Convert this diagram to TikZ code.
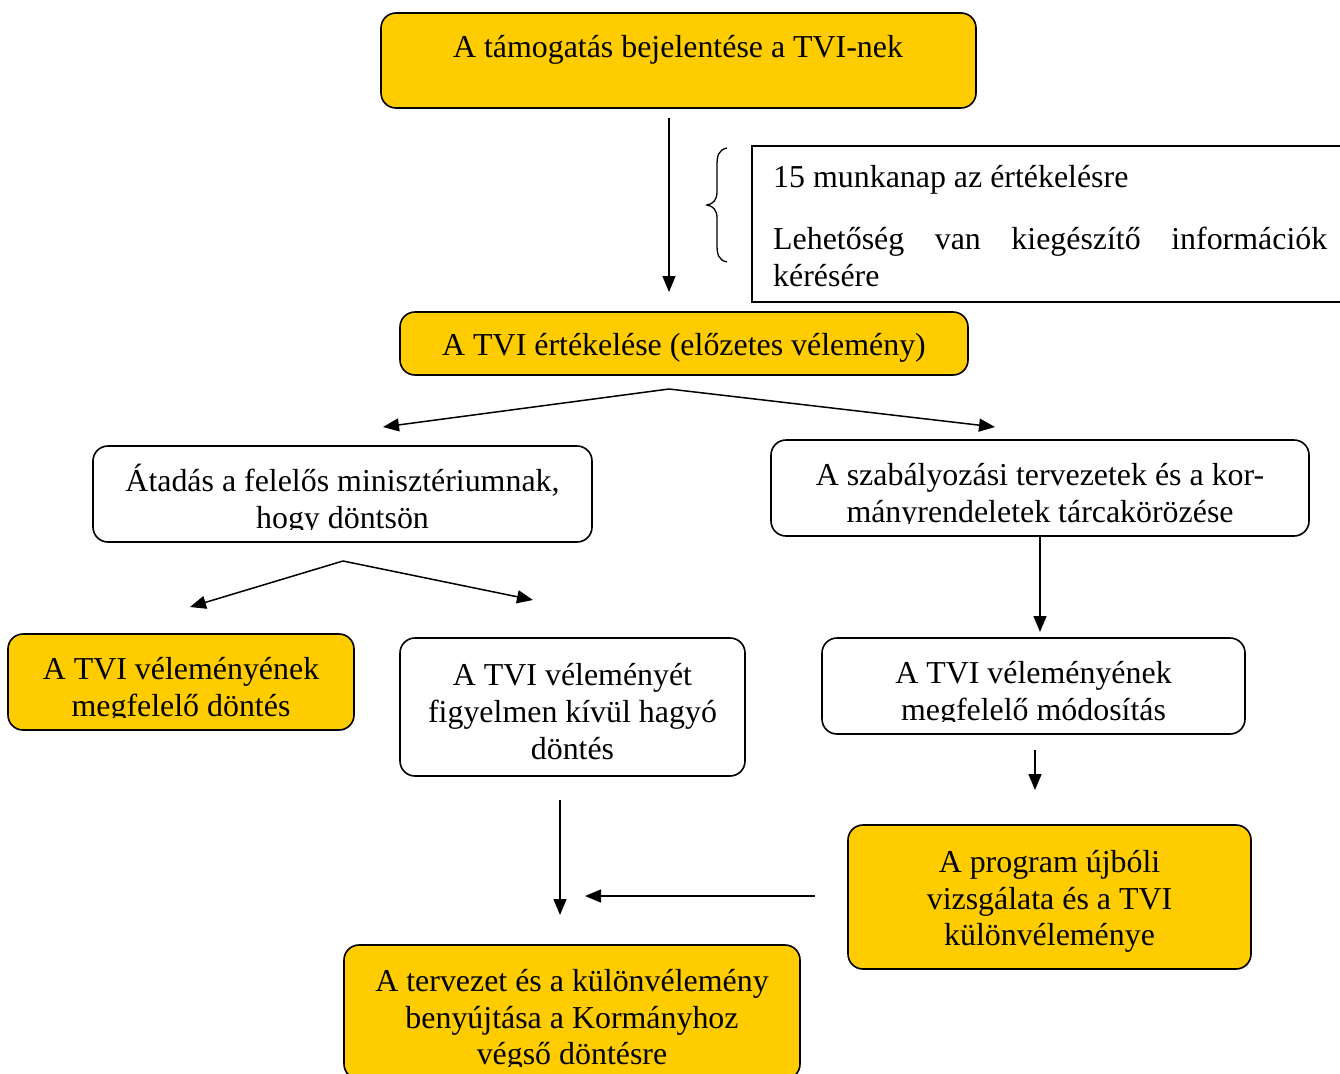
\documentclass[tikz,border=0pt]{standalone}
\usepackage{fontspec}
\setmainfont{Liberation Serif}
\usetikzlibrary{arrows.meta}
\definecolor{gold}{RGB}{255,204,0}
\tikzset{
  box/.style={draw=black, line width=1.6pt, rounded corners=15pt, inner sep=0pt},
  goldbox/.style={box, fill=gold},
  whitebox/.style={box, fill=white},
  txt/.style={anchor=base, inner sep=0pt, font=\fontsize{31.9}{37}\selectfont},
  arr/.style={-{Triangle[length=16pt,width=13pt]}, line width=1.5pt},
  thin/.style={line width=1.5pt}
}
\begin{document}
\begin{tikzpicture}[x=1pt,y=-1pt]
\useasboundingbox (0,0) rectangle (1340,1073);
% boxes
\node[goldbox, minimum width=595pt, minimum height=95pt] (b1) at (678.5,60.5) {};
\node[goldbox, minimum width=568pt, minimum height=63pt] (b2) at (684,343.5) {};
\node[whitebox, minimum width=499pt, minimum height=96pt] (b3) at (342.5,494) {};
\node[whitebox, minimum width=538pt, minimum height=96pt] (b4) at (1040,488) {};
\node[goldbox, minimum width=346pt, minimum height=96pt] (b5) at (181,682) {};
\node[whitebox, minimum width=345pt, minimum height=138pt] (b6) at (572.5,707) {};
\node[whitebox, minimum width=423pt, minimum height=96pt] (b7) at (1033.5,686) {};
\node[goldbox, minimum width=403pt, minimum height=144pt] (b8) at (1049.5,897) {};
\node[goldbox, minimum width=456pt, minimum height=134pt] (b9) at (572,1012) {};
% note box (open to the right)
\node[minimum width=600pt, minimum height=156pt, inner sep=0pt] (note) at (1052,224) {};
\draw[thin] (note.north east) -- (note.north west) -- (note.south west) -- (note.south east);
\draw[line width=1.3pt] (727,148) .. controls (718,150) and (717,156) .. (717,166)
  -- (717,192) .. controls (717,200) and (713,204) .. (707,205)
  .. controls (713,206) and (717,210) .. (717,218)
  -- (717,244) .. controls (717,254) and (718,260) .. (727,262);
% texts
\node[txt] (t1) at (678,58) {A támogatás bejelentése a TVI-nek};
\node[txt, anchor=base west] (n1) at (773,187) {15 munkanap az értékelésre};
\node[txt, anchor=base west] (n2) at (773,249) {\makebox[554pt][s]{Lehetőség van kiegészítő információk}};
\node[txt, anchor=base west] (n3) at (773,286) {kérésére};
\node[txt] (t2) at (684,355) {A TVI értékelése (előzetes vélemény)};
\begin{scope}
\clip (93,446) rectangle (592,529);
\node[txt] (t3a) at (342.5,491) {Átadás a felelős minisztériumnak,};
\node[txt] (t3b) at (342.5,528) {hogy döntsön};
\end{scope}
\begin{scope}
\clip (771,440) rectangle (1309,523);
\node[txt] (t4a) at (1040,485) {A szabályozási tervezetek és a kor-};
\node[txt] (t4b) at (1040,522) {mányrendeletek tárcakörözése};
\end{scope}
\begin{scope}
\clip (8,634) rectangle (354,717);
\node[txt] (t5a) at (181,679) {A TVI véleményének};
\node[txt] (t5b) at (181,716) {megfelelő döntés};
\end{scope}
\node[txt] (t6a) at (572.5,685) {A TVI véleményét};
\node[txt] (t6b) at (572.5,722) {figyelmen kívül hagyó};
\node[txt] (t6c) at (572.5,759) {döntés};
\begin{scope}
\clip (822,638) rectangle (1245,721);
\node[txt] (t7a) at (1033.5,683) {A TVI véleményének};
\node[txt] (t7b) at (1033.5,720) {megfelelő módosítás};
\end{scope}
\node[txt] (t8a) at (1049.5,872) {A program újbóli};
\node[txt] (t8b) at (1049.5,909) {vizsgálata és a TVI};
\node[txt] (t8c) at (1049.5,945) {különvéleménye};
\begin{scope}
\clip (344,945) rectangle (800,1066);
\node[txt] (t9a) at (572,991) {A tervezet és a különvélemény};
\node[txt] (t9b) at (572,1028) {benyújtása a Kormányhoz};
\node[txt] (t9c) at (572,1064) {végső döntésre};
\end{scope}
% connector coordinates
\coordinate (c1s) at (669,118);
\coordinate (c1e) at (669,292);
\coordinate (c2s) at (669,389);
\coordinate (c2l) at (383,427);
\coordinate (c2r) at (995,427);
\coordinate (c3s) at (343,561);
\coordinate (c3l) at (190,607);
\coordinate (c3r) at (533,600);
\coordinate (c4e) at (1040,632);
\coordinate (c5s) at (1035,750);
\coordinate (c5e) at (1035,790);
\coordinate (c6s) at (560,800);
\coordinate (c6e) at (560,915);
\coordinate (c7s) at (815,896);
\coordinate (c7e) at (585,896);
% connectors
\draw[arr] (c1s) -- (c1e);
\draw[arr] (c2s) -- (c2l);
\draw[arr] (c2s) -- (c2r);
\draw[arr] (c3s) -- (c3l);
\draw[arr] (c3s) -- (c3r);
\draw[arr] (b4.south) -- (c4e);
\draw[arr] (c5s) -- (c5e);
\draw[arr] (c6s) -- (c6e);
\draw[arr] (c7s) -- (c7e);
\end{tikzpicture}
\end{document}
